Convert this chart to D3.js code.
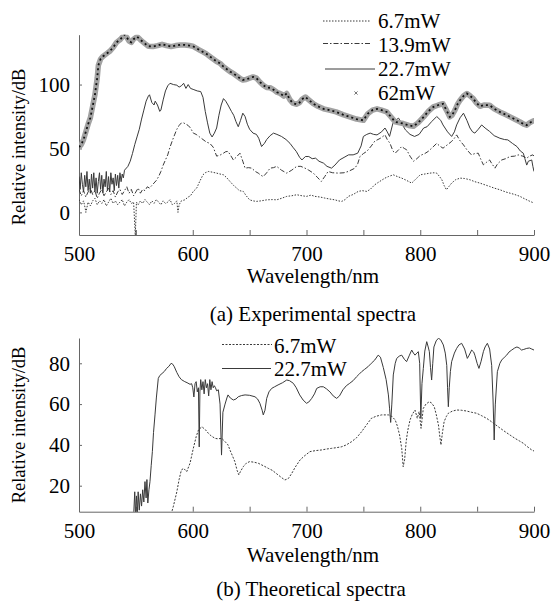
<!DOCTYPE html>
<html>
<head>
<meta charset="utf-8">
<script src="https://cdn.jsdelivr.net/npm/d3@7"></script>
<style>
body { margin: 0; background: #fff; }
text { font-family: "Liberation Serif", "Times New Roman", serif; }
</style>
</head>
<body>
<script>
// ---- data (wavelength nm, relative intensity dB) ----
var xTicks = [500, 550, 600, 650, 700, 750, 800, 850, 900];
var yTicksA = [0, 50, 100];
var yTicksB = [20, 40, 60, 80];

// (a) experimental spectra
var exp67 = [[500,10],[502,6],[504,9],[505.5,3],[506,0],[508,8],[510,5],[512,9],[514,11],[516,6],[518,9],[520,7],[522,10],[524,5],[526,8],[528,11],[530,7],[532,9],[534,6],[536,8],[538,10],[540,5],[542,8],[544,10],[546,7],[548,8],[549.5,-18],[550.5,8],[552,6],[554,9],[556,7],[558,10],[560,8],[562,6],[564,9],[566,7],[568,10],[570,8],[572,6],[574,9],[576,7],[578,8],[580,10],[582,6],[584,7],[586,9],[587,0],[588,6],[590,9],[593,9.8],[596,12],[598,13],[600.5,16.4],[603.5,19],[606,24],[609,29.4],[611,31],[613.7,32],[617,31.5],[621,30.7],[624,30],[627,29.4],[630,27],[632.7,24.2],[636,21],[638.6,19],[641,17],[644.4,16.4],[647,13],[650,9.8],[653,9],[656,8.6],[660,9],[665,9.8],[670,10],[673.8,9.8],[678,11],[682.6,12.5],[687,13],[691.4,13.8],[696,13],[700,12.5],[704,13.5],[707.5,12.5],[712,12],[716,11.2],[720,10.5],[725,9.8],[728,9],[731,8.6],[734,10],[736.7,12.5],[741,14],[745.5,16.4],[749,17],[753,16.4],[756,18],[760,21.6],[764,24],[769,26.8],[772,28],[776.3,29.4],[780,28],[783.7,26.8],[788,25],[792.5,22.9],[796,26],[800,29.4],[804,30],[808.6,30.7],[812,31],[814.5,30.7],[817,28],[819,25.5],[821,21],[823,17.7],[825,20],[827.6,22.9],[831,25.5],[835,26.8],[839,26.5],[843.7,25.5],[848,24],[852.5,22.9],[857,21.5],[861,20.3],[865,19],[870,17.7],[875,16],[879,15],[883,14],[887.7,12.5],[892,10.5],[896.5,8.6],[900,7.3]];

var exp139 = [[500,18],[502,13],[504,17],[506,12],[508,16],[510,19],[512,14],[514,17],[516,11],[518,15],[520,18],[522,13],[524,16],[526,19],[528,14],[530,17],[532,12],[534,16],[536,18],[538,14],[540,17],[542,20],[544,15],[546,18],[548,13],[550,16],[552,19],[554,15],[556,18],[558,17],[560,20],[562,19],[564,21],[566,23],[568,25],[570,28],[572,32],[574,37],[576,41],[578,45],[580,51],[582,56],[584,60.6],[586,65],[588,68],[590,70],[592,70],[594,69],[596,68],[598,66],[600.5,62],[603,61],[606,59],[609,57],[612,55],[615,54],[618,51],[621,44],[624,44.8],[627,46.3],[629,47.5],[631,47.7],[633,45],[635.7,41],[638,43],[641.5,46.3],[644,40],[646,34.6],[649,35],[651.8,34.6],[655,32],[657.6,30.7],[660,29],[662,28],[665,31],[668,34.6],[671,35],[673.8,36],[678,33],[682.6,30.7],[687,33],[691.4,36],[695,36],[698.7,34.6],[702,33],[706,30.7],[710,27],[713,24.2],[716,28],[719,32],[723,31],[728,30.7],[733,31],[736.7,32],[742.6,34.6],[745,38],[747,43.7],[750,46],[753,47.7],[757,52],[760,55.7],[765,58],[769,60.6],[771,57],[773.4,54],[776,48],[778,46.3],[781,49],[783.7,51.5],[786,50],[788,49],[791,44],[794,40],[797,42],[800,44.5],[804,46],[807,47.7],[811,51],[814.5,54],[817,52],[820,50.2],[824,53],[827.6,55.5],[830,58],[832,60.6],[835,56],[838,52.8],[841,49],[845,45],[848,46],[851,46.3],[853,42],[855.5,37.2],[858,39],[861,41],[863,38],[865.7,34.6],[868,38],[871.6,41],[875,42],[879,43.7],[883,44],[886,45],[890,44],[893.6,42.4],[896,44],[899,45],[900,44]];

var exp227 = [[500,28],[501,18],[502,31],[503,22],[504,16],[505,29],[506,20],[507,32],[508,17],[509,26],[510,15],[511,30],[512,19],[513,31],[514,16],[515,27],[516,15],[517,24],[518,31],[519,18],[520,29],[521,15],[522,26],[523,20],[524,32],[525,17],[526,28],[527,16],[528,31],[529,22],[530,27],[531,17],[532,30],[533,21],[534,29],[535,19],[536,31],[537,24],[538,30],[539,27],[540,33],[543,36],[545,40],[547,46],[549,53],[551,59],[553,65],[555,73],[557,80],[559,87],[561,91],[562,92],[564,86],[566,84],[567,87],[569,84],[571,79],[572,80],[574,88],[576,95],[578,99],[580,101],[583,100],[586,99.5],[588,98],[590,99],[592,101],[594,97],[596,100],[598,97],[601,96],[604,95],[607,94.5],[609,90],[611,79],[613,70],[615,62],[617,59],[619,62],[621,66],[623,76],[625,84],[627,89],[629,87],[631,84],[634,79],[636,76],[638,71],[640,67],[642,72],[644,77.6],[646,75],[648,69],[650,65],[653,62],[656,61],[658,58],[660.5,51.5],[663,54],[665,57],[668,60],[671,62],[674,61],[678,59.4],[682,57],[685.5,54],[688,51],[691,47.7],[694,43],[696,41],[699,43.7],[702,43.7],[705,42],[708,42.4],[711,40],[715,38.5],[718,36],[722,34.6],[725,37],[729,41],[733,43],[737,45],[741,45],[745,46.3],[748,52],[750,59.4],[753,61],[756,62],[759,61],[762,60.6],[766,63],[769,66],[771,63],[773,59.4],[776,69.8],[778,72],[781,73.7],[784,69],[787,64.5],[791,61],[795,59.4],[799,61],[803,66],[806,67],[810,71],[814.5,75],[818,72],[820,68.4],[824,63],[827.6,59.4],[830,63],[832,68.4],[835,74],[838,77.6],[841,72],[843.7,66],[846,63],[848,62],[851,65],[854,68.4],[857,66],[861,63.3],[865,60],[870,58],[874,57],[877,56.7],[881,54],[885,51.5],[888,48],[890.6,46.3],[892,42],[893.6,37],[895,40],[898,41],[899,36],[900,32]];

var exp62 = [[500,51],[502,53],[504,57],[506,63],[508,69],[510,74],[512,83],[514,92],[516,105],[517,115],[519,120],[521,122],[524,124],[527,126],[530,129],[533,133],[536,135],[538,137],[540,139],[542,137],[544,134],[546,133],[548,135.5],[551,137.5],[554,135],[556,133.5],[558,132],[561,130],[565,129.7],[569,130.5],[573,131.5],[577,130.5],[581,129.7],[585,130.5],[589,131],[593,131],[597,130.5],[600,130],[603,128.5],[606,127],[609,125.5],[612,124],[615,122],[618,120],[621,118],[624,116.6],[627,114],[630,112],[633,110],[636,108.5],[639,106.5],[642,104.5],[644,103.6],[647,104],[650,105],[653,106],[656,105],[659,102],[662,99.5],[665,97.7],[668,97.5],[671,96],[674,94],[677,93],[680,91],[682.6,93],[685.5,88],[688,85.5],[691,84.6],[694,86],[696,88.5],[699,90.3],[702,88],[706,85],[710,83],[715,81],[720,80],[726,78.6],[732,76.5],[738,74.7],[744,73],[750,72],[754,77.3],[758,80],[762,81],[766,80],[770.5,78.6],[774,75],[778,70.8],[782,70],[785,69.5],[790,68],[794,67.4],[798,70],[803,74.7],[807,79],[811.5,82.5],[816,84],[820,85],[823,80],[826,74.7],[828,76],[830.5,80],[833,85],[835,87.7],[838,91],[841,93],[844,91],[846.6,89],[849,86],[852.5,83],[856,84],[861,83.8],[865,81],[870,78.6],[875,76.5],[879,74.7],[884,72.5],[887.7,70.8],[891,69],[893.6,68.2],[896,70],[899.4,71.6],[900,71]];

// (b) theoretical spectra
var th67 = [[581,6],[583,10],[586,17],[588,23],[590,27.7],[592,28.5],[594.7,26.9],[597.6,31],[600.5,38.3],[603,44],[605,47.3],[608,48.9],[611,47.5],[613.7,45.7],[616,44.5],[619.6,43.2],[622,43],[625.5,43.2],[628.4,41.6],[631,40],[632.7,37.5],[635,34.5],[637,31.8],[639,27.5],[640.5,25.3],[642,27],[644.4,29.3],[647,31],[650,31.8],[654,31.5],[657.6,31],[662,29.8],[666.4,28.5],[670,27.5],[675,25.3],[678,24],[681,22.8],[684,23.5],[687,26],[690,29],[694.3,32.6],[698,34.5],[703,36.7],[708,37.2],[713,37.5],[718,38],[722,38.3],[727,38.7],[731,39.1],[735,40],[739.7,41.6],[744,43.5],[748.5,46.5],[753,50],[757,53],[761,54],[766,54.7],[772,54.7],[775,54],[778,52.2],[780,49],[781.8,44.9],[783.7,38.3],[785,29.3],[786.3,33],[787.6,41.6],[789,47],[791,52.2],[793,55],[795.4,57.1],[797.4,53],[799,56.3],[800.7,48.1],[802.7,57.9],[805,60],[808,61.2],[810,60.5],[812.3,58.7],[814,55],[816,49.8],[817,45],[818.2,40],[819.5,46],[821,51.4],[823,54],[824.7,55.5],[828,56.5],[832,57.1],[836,57],[840.8,56.6],[845,56],[849.6,55.5],[854,54.3],[858.4,53],[862,51.6],[865.7,50.1],[870,48.3],[874.5,46.5],[879,44.8],[883.3,43.2],[887,42],[890.6,40.8],[894,39.2],[898,37.5],[900,37]];

var th227 = [[548,5],[549,17],[549.7,5],[550.5,15],[551.3,6],[552,17],[553,8],[554,16],[555,10],[556,18],[557,12],[558,22],[559,14],[559.7,23],[560.5,11.5],[561.5,18],[562.4,22],[563.5,30],[564.5,36.7],[565.5,46],[566.8,54.7],[568,63],[569.7,72.6],[571,74],[573,75],[575,76],[577,77.5],[579,78.5],[581,80],[582.5,79.5],[583.8,78.3],[586,75.5],[588,73.4],[590,72],[593,71],[595,70.5],[597.6,69.7],[599,70],[600,68],[601,63.5],[602,70],[603,71],[604,66],[605,68],[605.7,39],[606.3,66],[607,72],[608,67],[609,71],[610,65],[611,72],[612,68],[613,70],[614,64],[615,72],[616,67],[617,71],[618,68],[619,69],[620,68],[621,66.5],[622.5,67],[624,60],[625.3,35],[626.5,56],[628.4,60],[630,63],[631,64.5],[633,63],[635.7,62],[638,62.5],[640,63.6],[643,64.2],[646,64.5],[650,64.3],[654.7,63.6],[657,62.5],[659,60.4],[661,57],[662,54.7],[663.5,57],[665,62.8],[667,66],[669.4,67.7],[672,68.5],[675,69.4],[679,70.5],[682.6,71.8],[685,71.5],[688.4,70.2],[691,68],[694,64.5],[697,62],[700,60.4],[702,61],[704.6,62.8],[707,65],[709,67.7],[712,68.5],[714.8,68.5],[717.5,67.5],[720.6,66],[723.5,64],[726.5,62.8],[729,64],[732,67],[735,69],[738,70.2],[741,71.5],[744,73.4],[746,74.5],[748.5,75.9],[751,77],[754,78.3],[757,80],[760,81.6],[763,84],[765,83],[767.5,78],[770,72],[772,64.5],[773,58],[774,51],[775,60],[776.3,74.3],[778,80],[779.3,82.4],[781.5,83.5],[783.7,84],[786,82],[788,80.8],[790.5,84],[792.5,86.5],[794,85],[795.4,84],[797,85],[798.3,85.7],[799.5,80],[800.5,53],[801.5,70],[802.7,77.5],[804,86],[805.7,90.6],[807,88],[808,85.7],[809,78],[810,71.8],[811,80],[812,88],[814,91],[816,92.3],[818,91.5],[820.3,89],[822,85],[823.3,79],[824,68],[824.7,58.7],[825.5,68],[826.5,76],[827.6,80.8],[830,85],[832,87.3],[834,89],[836.4,89.8],[839,87],[841.4,82.4],[843,84],[845.2,86.5],[847,85.5],[848,84],[850,80],[851.6,77.5],[853.5,81],[855.5,85.7],[857,88],[859,89.8],[861,87],[862.8,79],[864,62],[865,42.4],[866,60],[867.8,75.9],[870,80],[871.6,81.6],[874,83],[876,84],[878,85.5],[880.4,86.5],[883,87.5],[885,88],[887,87.5],[889,86.5],[891,86.8],[893.6,87.3],[896,87.5],[898,87],[900,86.5]];

var legendA = ["6.7mW", "13.9mW", "22.7mW", "62mW"];
var legendB = ["6.7mW", "22.7mW"];

// ---- drawing ----
var width = 553, height = 603;
var svg = d3.select("body").append("svg")
	.attr("width", width)
	.attr("height", height);

var axisColor = "#666";
var lineColor = "#3a3a3a";
var fontSize = 21;

function drawPanel(opt) {
	var x = d3.scaleLinear().domain([500, 900]).range([79, 534]);
	var y = d3.scaleLinear().domain(opt.yDomain).range(opt.yRange);
	var g = svg.append("g");

	g.append("clipPath").attr("id", opt.id)
		.append("rect")
		.attr("x", x.range()[0]).attr("y", y.range()[1])
		.attr("width", x.range()[1] - x.range()[0])
		.attr("height", y.range()[0] - y.range()[1]);

	var xAxis = d3.axisBottom(x)
		.tickValues(xTicks)
		.tickSizeInner(-5).tickSizeOuter(0)
		.tickPadding(11)
		.tickFormat(function(d) { return d % 100 == 0 ? d : ""; });
	var yAxis = d3.axisLeft(y)
		.tickValues(opt.yTicks)
		.tickSizeInner(-3).tickSizeOuter(0)
		.tickPadding(9);

	var gx = g.append("g").attr("transform", "translate(0," + y.range()[0] + ")").call(xAxis);
	var gy = g.append("g").attr("transform", "translate(" + x.range()[0] + ",0)").call(yAxis);
	[gx, gy].forEach(function(a) {
		a.select(".domain").attr("stroke", axisColor);
		a.selectAll(".tick line").attr("stroke", axisColor);
		a.selectAll("text")
			.attr("font-size", fontSize)
			.attr("fill", "#000");
	});

	var line = d3.line()
		.x(function(d) { return x(d[0]); })
		.y(function(d) { return y(d[1]); });

	var plot = g.append("g").attr("clip-path", "url(#" + opt.id + ")");
	opt.series.forEach(function(s) {
		if (s.band) {
			plot.append("path").datum(s.data)
				.attr("d", line).attr("fill", "none")
				.attr("stroke", "#a2a2a2").attr("stroke-width", 5.5)
				.attr("stroke-linejoin", "round");
			plot.append("path").datum(s.data)
				.attr("d", line).attr("fill", "none")
				.attr("stroke", "#111").attr("stroke-width", 1.8)
				.attr("stroke-dasharray", "2,3");
		} else {
			plot.append("path").datum(s.data)
				.attr("d", line).attr("fill", "none")
				.attr("stroke", s.color || lineColor)
				.attr("stroke-width", s.width || 1)
				.attr("stroke-dasharray", s.dash || null);
		}
	});

	// axis titles and caption
	g.append("text")
		.attr("x", opt.xTitle[0]).attr("y", opt.xTitle[1])
		.attr("text-anchor", "middle")
		.attr("font-size", fontSize)
		.text("Wavelength/nm");
	g.append("text")
		.attr("transform", "translate(" + 25 + "," + opt.yTitleCenter + ") rotate(-90)")
		.attr("text-anchor", "middle")
		.attr("font-size", 18.5)
		.text("Relative intensity/dB");
	g.append("text")
		.attr("x", opt.caption[0]).attr("y", opt.caption[1])
		.attr("text-anchor", "middle")
		.attr("font-size", fontSize)
		.text(opt.caption[2]);

	// legend
	opt.legend.forEach(function(l) {
		if (l.marker) {
			var cx = l.x1 + (l.x2 - l.x1) / 2, r = 1.6;
			g.append("path")
				.attr("d", "M" + (cx - r) + "," + (l.ly - r) + "L" + (cx + r) + "," + (l.ly + r) +
					"M" + (cx - r) + "," + (l.ly + r) + "L" + (cx + r) + "," + (l.ly - r))
				.attr("stroke", "#777").attr("stroke-width", 1);
		} else {
			g.append("line")
				.attr("x1", l.x1).attr("x2", l.x2)
				.attr("y1", l.ly).attr("y2", l.ly)
				.attr("stroke", lineColor).attr("stroke-width", 1)
				.attr("stroke-dasharray", l.dash || null);
		}
		g.append("text").attr("x", l.tx).attr("y", l.ty)
			.attr("font-size", fontSize).text(l.label);
	});
}

// (a)
drawPanel({
	id: "clipA",
	yDomain: [-17.7, 139], yRange: [235, 34.7], yTicks: yTicksA,
	series: [
		{data: exp67, dash: "1.5,1.5"},
		{data: exp139, dash: "5,2,1.5,2"},
		{data: exp227},
		{data: exp62, band: true}
	],
	xTitle: [313, 283], yTitleCenter: 147,
	caption: [313, 321, "(a) Experimental spectra"],
	legend: [
		{label: legendA[0], x1: 323, x2: 371, ly: 21, tx: 378, ty: 28, dash: "1.5,1.5"},
		{label: legendA[1], x1: 323, x2: 372, ly: 43.5, tx: 378, ty: 52, dash: "5,2,1.5,2"},
		{label: legendA[2], x1: 325, x2: 375, ly: 69, tx: 378, ty: 76},
		{label: legendA[3], x1: 340, x2: 372, ly: 93, tx: 378, ty: 100, marker: true}
	]
});

// (b)
drawPanel({
	id: "clipB",
	yDomain: [7.25, 92.4], yRange: [511.7, 338], yTicks: yTicksB,
	series: [
		{data: th67, dash: "2,1.5"},
		{data: th227}
	],
	xTitle: [313, 562], yTitleCenter: 425,
	caption: [311, 596, "(b) Theoretical spectra"],
	legend: [
		{label: legendB[0], x1: 222, x2: 272, ly: 344.5, tx: 274, ty: 353, dash: "2,1.5"},
		{label: legendB[1], x1: 222, x2: 271, ly: 368.5, tx: 274, ty: 376}
	]
});
</script>
</body>
</html>
